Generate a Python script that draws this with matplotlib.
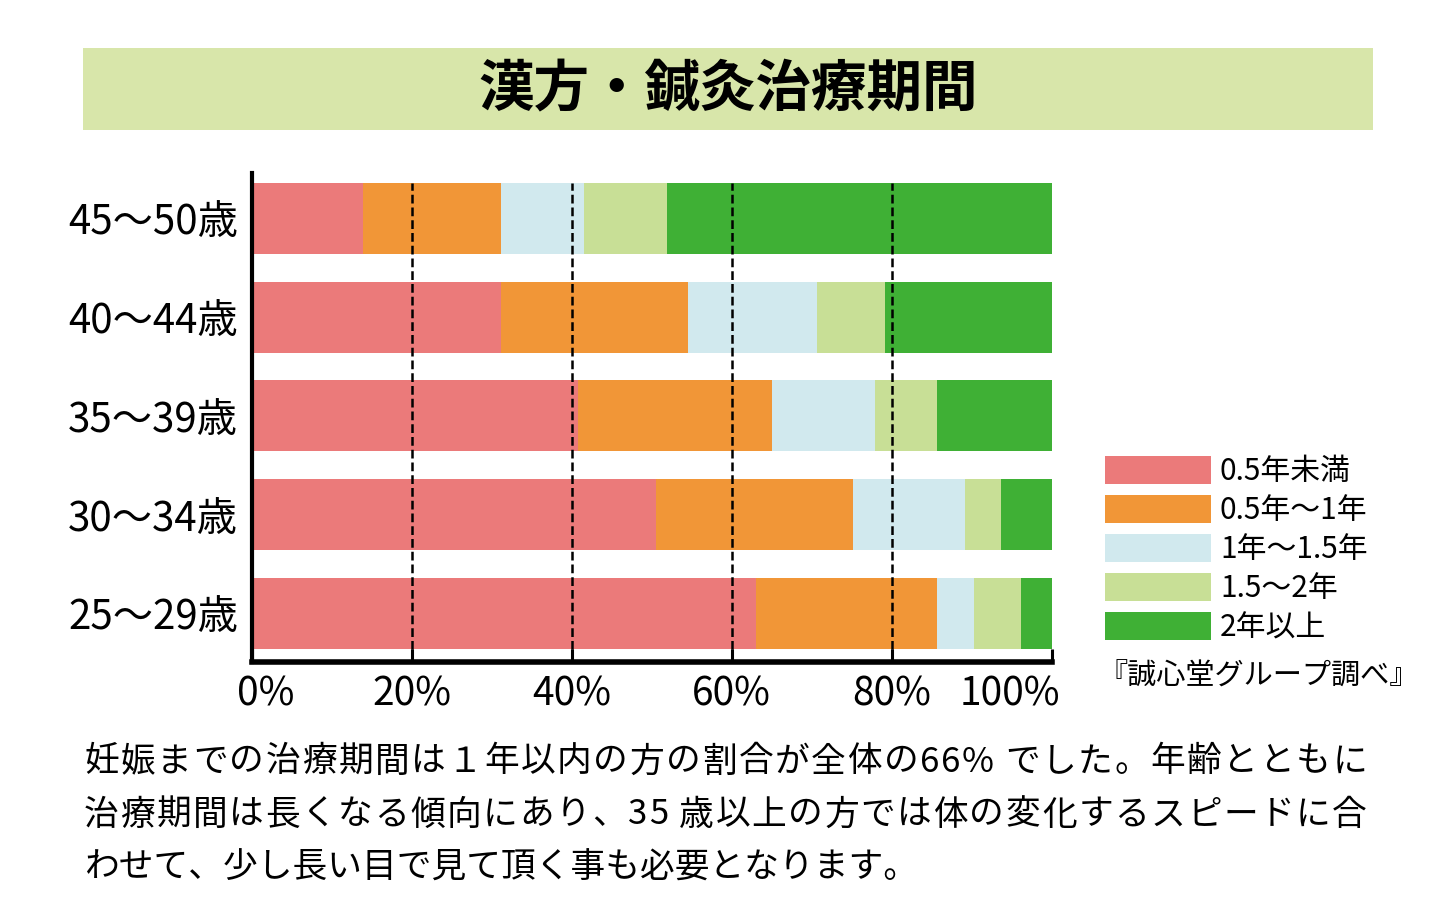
import matplotlib
matplotlib.use("Agg")
import matplotlib.pyplot as plt
from matplotlib.patches import Rectangle

plt.rcParams['font.family'] = ['Noto Sans CJK JP', 'DejaVu Sans']

# ---- data ----
categories = ['25〜29歳', '30〜34歳', '35〜39歳', '40〜44歳', '45〜50歳']
series_labels = ['0.5年未満', '0.5年〜1年', '1年〜1.5年', '1.5〜2年', '2年以上']
under_half = [63.0, 50.5, 40.8, 31.2, 13.9]
half_to_one = [22.7, 24.7, 24.2, 23.3, 17.3]
one_to_onehalf = [4.6, 14.0, 12.9, 16.1, 10.3]
onehalf_to_two = [5.9, 4.5, 7.7, 8.6, 10.4]
over_two = [3.8, 6.3, 14.4, 20.8, 48.1]
xticks = [0, 20, 40, 60, 80, 100]
xtick_labels = ['0%', '20%', '40%', '60%', '80%', '100%']
grid_positions = [20, 40, 60, 80]

title = '漢方・鍼灸治療期間'
source = '『誠心堂グループ調べ』'
paragraph = [
    '妊娠までの治療期間は１年以内の方の割合が全体の66% でした。年齢とともに',
    '治療期間は長くなる傾向にあり、35 歳以上の方では体の変化するスピードに合',
    'わせて、少し長い目で見て頂く事も必要となります。',
]
justify = [True, True, False]

colors = ['#EB7A7A', '#F19637', '#D1E9EE', '#C8DF96', '#3FB035']

W, H = 1453, 911
fig = plt.figure(figsize=(W / 100, H / 100), dpi=100)
fig.patch.set_facecolor('white')

# title band
fig.patches.append(Rectangle((83 / W, 1 - 130 / H), 1290 / W, 82 / H,
                             transform=fig.transFigure, facecolor='#D8E6AA',
                             edgecolor='none', zorder=0))
fig.text(728 / W, 1 - 90 / H, title, fontsize=40, fontweight='bold',
         ha='center', va='center', color='black')

ax = fig.add_axes([251.7 / W, (H - 661.7) / H, 800 / W, 488.7 / H])

series = [under_half, half_to_one, one_to_onehalf, onehalf_to_two, over_two]
ypos = list(range(len(categories)))
left = [0.0] * len(categories)
for vals, col, lab in zip(series, colors, series_labels):
    ax.barh(ypos, vals, left=left, height=0.72, color=col, label=lab,
            edgecolor='none', zorder=2)
    left = [l + v for l, v in zip(left, vals)]

ax.set_xlim(0, 100)
ax.set_ylim(-0.49, 4.46)

ax.vlines(grid_positions, -0.49, 4.36, colors='black',
          linestyles=(0, (3.5, 1.6)), linewidth=1.8, zorder=3)

for s in ['top', 'right']:
    ax.spines[s].set_visible(False)
ax.spines['left'].set_linewidth(3)
ax.spines['bottom'].set_linewidth(4)

ax.set_xticks(xticks)
ax.set_xticklabels([])
ax.tick_params(axis='x', direction='in', length=9.5, width=2.2, color='black')
offsets = [10, 0, 0, 0, 0, -30]
for xv, lab, dx in zip(xticks, xtick_labels, offsets):
    ax.annotate(lab, xy=(xv, 0), xycoords=('data', 'axes fraction'),
                xytext=(dx, -9), textcoords='offset points',
                ha='center', va='top', fontsize=28)

ax.set_yticks(ypos)
ax.set_yticklabels(categories, fontsize=29)
ax.tick_params(axis='y', length=0, pad=10)

handles, labels = ax.get_legend_handles_labels()
fig.legend(handles, labels, loc='upper left',
           bbox_to_anchor=(1096 / W, 1 - 447 / H), frameon=False,
           fontsize=21.5, handlelength=3.55, handleheight=1.05,
           handletextpad=0.3, labelspacing=0.27, borderaxespad=0,
           borderpad=0.3)

fig.text(1098 / W, 1 - 677 / H, source, fontsize=21, ha='left', va='center')

# paragraph (lines 1-2 justified to the right margin like the original)
renderer = fig.canvas.get_renderer()
FS = 25
X0, X1 = 84, 1367


def text_width(s):
    if not s:
        return 0.0
    t = fig.text(0, 0, s + '|', fontsize=FS)
    w1 = t.get_window_extent(renderer).width
    t.remove()
    t = fig.text(0, 0, '|', fontsize=FS)
    w2 = t.get_window_extent(renderer).width
    t.remove()
    return w1 - w2


line_y = [762, 815, 868]
for txt, yy, jus in zip(paragraph, line_y, justify):
    if not jus:
        fig.text(X0 / W, 1 - yy / H, txt, fontsize=FS, ha='left', va='center')
        continue
    natural = text_width(txt)
    extra = (X1 - X0 - natural) / (len(txt) - 1)
    for i, ch in enumerate(txt):
        if ch == ' ':
            continue
        xpix = X0 + text_width(txt[:i]) + i * extra
        fig.text(xpix / W, 1 - yy / H, ch, fontsize=FS, ha='left', va='center')

fig.savefig('out.png', dpi=100)
